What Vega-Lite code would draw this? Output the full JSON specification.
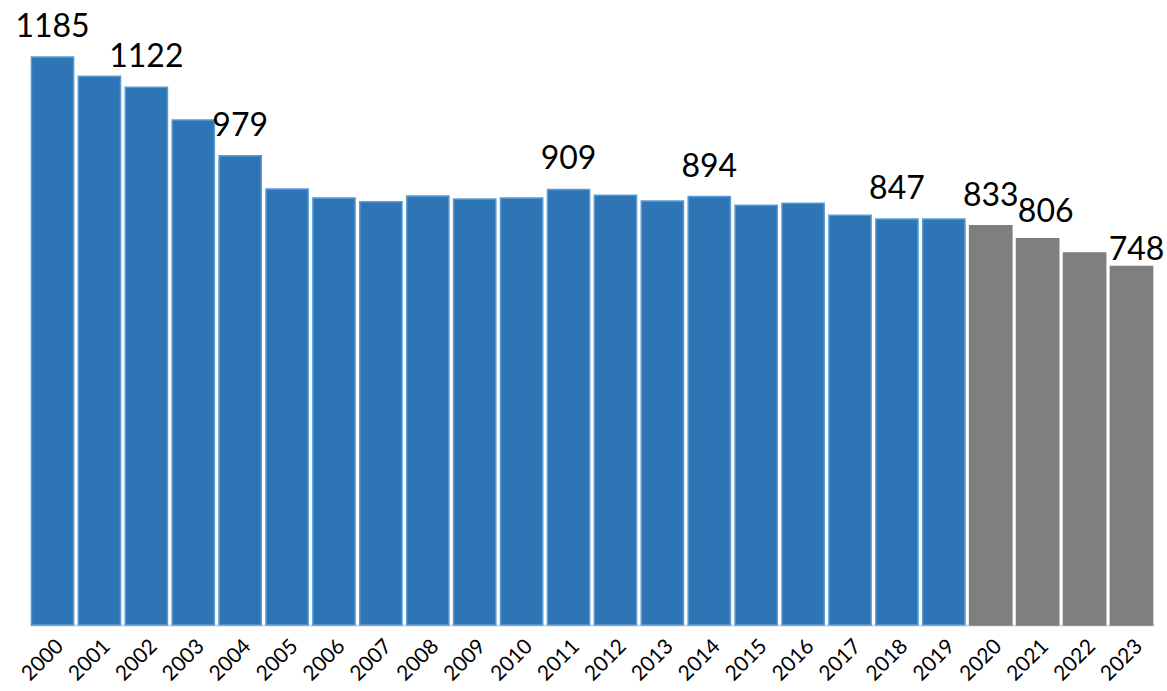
{
  "$schema": "https://vega.github.io/schema/vega-lite/v6.json",
  "width": 1124,
  "height": 623,
  "padding": {"left": 30, "top": 2, "right": 13, "bottom": 66},
  "autosize": {"type": "none"},
  "background": "white",
  "config": {"view": {"stroke": null}, "font": "Lato"},
  "data": {
    "values": [
      {"year": "2000", "value": 1185, "label": "1185", "kind": "actual"},
      {"year": "2001", "value": 1145, "label": "", "kind": "actual"},
      {"year": "2002", "value": 1122, "label": "1122", "kind": "actual"},
      {"year": "2003", "value": 1054, "label": "", "kind": "actual"},
      {"year": "2004", "value": 979, "label": "979", "kind": "actual"},
      {"year": "2005", "value": 910, "label": "", "kind": "actual"},
      {"year": "2006", "value": 891, "label": "", "kind": "actual"},
      {"year": "2007", "value": 883, "label": "", "kind": "actual"},
      {"year": "2008", "value": 895, "label": "", "kind": "actual"},
      {"year": "2009", "value": 889, "label": "", "kind": "actual"},
      {"year": "2010", "value": 891, "label": "", "kind": "actual"},
      {"year": "2011", "value": 909, "label": "909", "kind": "actual"},
      {"year": "2012", "value": 897, "label": "", "kind": "actual"},
      {"year": "2013", "value": 885, "label": "", "kind": "actual"},
      {"year": "2014", "value": 894, "label": "894", "kind": "actual"},
      {"year": "2015", "value": 876, "label": "", "kind": "actual"},
      {"year": "2016", "value": 880, "label": "", "kind": "actual"},
      {"year": "2017", "value": 855, "label": "", "kind": "actual"},
      {"year": "2018", "value": 847, "label": "847", "kind": "actual"},
      {"year": "2019", "value": 847, "label": "", "kind": "actual"},
      {"year": "2020", "value": 833, "label": "833", "kind": "recent"},
      {"year": "2021", "value": 806, "label": "806", "kind": "recent"},
      {"year": "2022", "value": 776, "label": "", "kind": "recent"},
      {"year": "2023", "value": 748, "label": "748", "kind": "recent"}
    ]
  },
  "encoding": {
    "x": {
      "field": "year",
      "type": "ordinal",
      "scale": {"paddingInner": 0.1, "paddingOuter": 0.03},
      "axis": {
        "title": null,
        "labelAngle": -45,
        "labelFontSize": 21,
        "labelColor": "black",
        "labelPadding": 10,
        "ticks": false,
        "domainColor": "#D9D9D9",
        "domainWidth": 2
      }
    },
    "y": {
      "field": "value",
      "type": "quantitative",
      "scale": {"domain": [0, 1300], "nice": false},
      "axis": null
    }
  },
  "layer": [
    {
      "mark": {"type": "bar", "strokeWidth": 1.5},
      "encoding": {
        "color": {
          "field": "kind",
          "type": "nominal",
          "scale": {"domain": ["actual", "recent"], "range": ["#2E75B6", "#7F7F7F"]},
          "legend": null
        },
        "stroke": {
          "field": "kind",
          "type": "nominal",
          "scale": {"domain": ["actual", "recent"], "range": ["#5B9BD5", "#7F7F7F"]},
          "legend": null
        }
      }
    },
    {
      "transform": [{"filter": "datum.year != '2021' && datum.year != '2023'"}],
      "mark": {"type": "text", "fontSize": 32, "dy": -20, "baseline": "alphabetic", "color": "black"},
      "encoding": {"text": {"field": "label"}}
    },
    {
      "transform": [{"filter": "datum.year == '2021'"}],
      "mark": {"type": "text", "fontSize": 32, "dx": 8, "dy": -17, "baseline": "alphabetic", "color": "black"},
      "encoding": {"text": {"field": "label"}}
    },
    {
      "transform": [{"filter": "datum.year == '2023'"}],
      "mark": {"type": "text", "fontSize": 32, "dx": 5, "dy": -7, "baseline": "alphabetic", "color": "black"},
      "encoding": {"text": {"field": "label"}}
    }
  ]
}
